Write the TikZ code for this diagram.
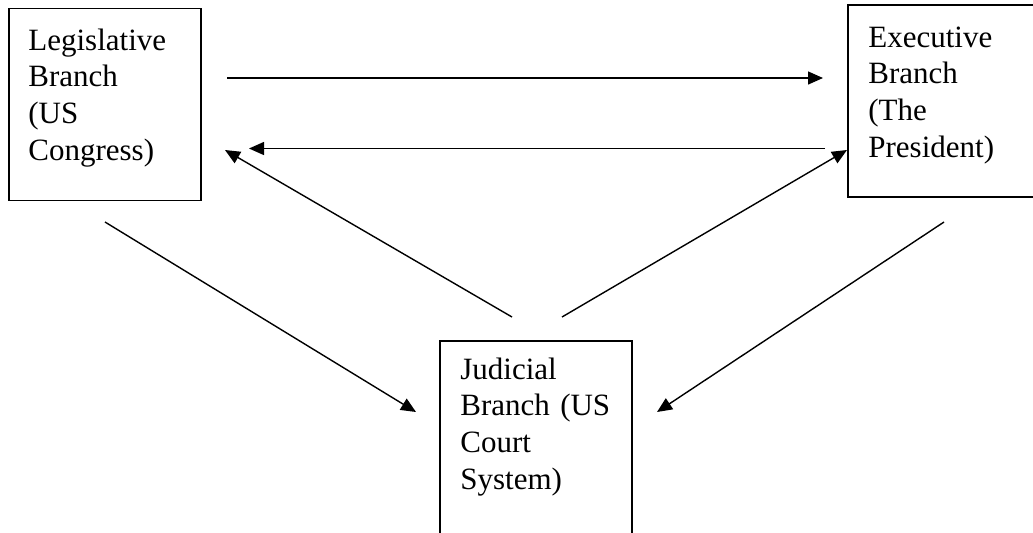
\documentclass[tikz,border=0pt]{standalone}
\usepackage{fontspec}
\setmainfont{Liberation Serif}
\usetikzlibrary{arrows.meta}

\begin{document}
\begin{tikzpicture}[x=0.5pt, y=-0.5pt,
  branch/.style={draw, line width=0.9pt, minimum width=96pt, minimum height=96pt, inner sep=0pt},
  lbl/.style={anchor=base west, inner sep=0pt, text width=85pt, align=left,
    font=\fontsize{15.5pt}{18.4pt}\selectfont},
  arr/.style={line width=0.7pt, -{Triangle[length=7.5pt, width=6.5pt]}}]
\useasboundingbox (0,0) rectangle (1033,532);

% the three branches
\node [branch] (leg) at (105,104.5) {};
\node [lbl] (legtext) at (28,50) {Legislative\\Branch\\(US\\Congress)};
\node [branch] (exe) at (944,101) {};
\node [lbl] (exetext) at (868,47) {Executive\\Branch\\(The\\President)};
\node [branch, minimum height=100pt] (jud) at (536,441) {};
\node [lbl] (judtext) at (460,379) {Judicial\\Branch (US\\Court\\System)};

% arrow ends
\coordinate (legA) at (227,78);
\coordinate (exeA) at (823,78);
\coordinate (exeB) at (825,148.5);
\coordinate (legB) at (249,148.5);
\coordinate (judA) at (512,317);
\coordinate (legC) at (225,150);
\coordinate (judB) at (562,317);
\coordinate (exeC) at (847,150);
\coordinate (legD) at (105,222);
\coordinate (judC) at (416,412);
\coordinate (exeD) at (944,222);
\coordinate (judD) at (657,412);

\draw [arr] (legA) -- (exeA);
\draw [arr] (exeB) -- (legB);
\draw [arr] (judA) -- (legC);
\draw [arr] (judB) -- (exeC);
\draw [arr] (legD) -- (judC);
\draw [arr] (exeD) -- (judD);
\end{tikzpicture}
\end{document}
